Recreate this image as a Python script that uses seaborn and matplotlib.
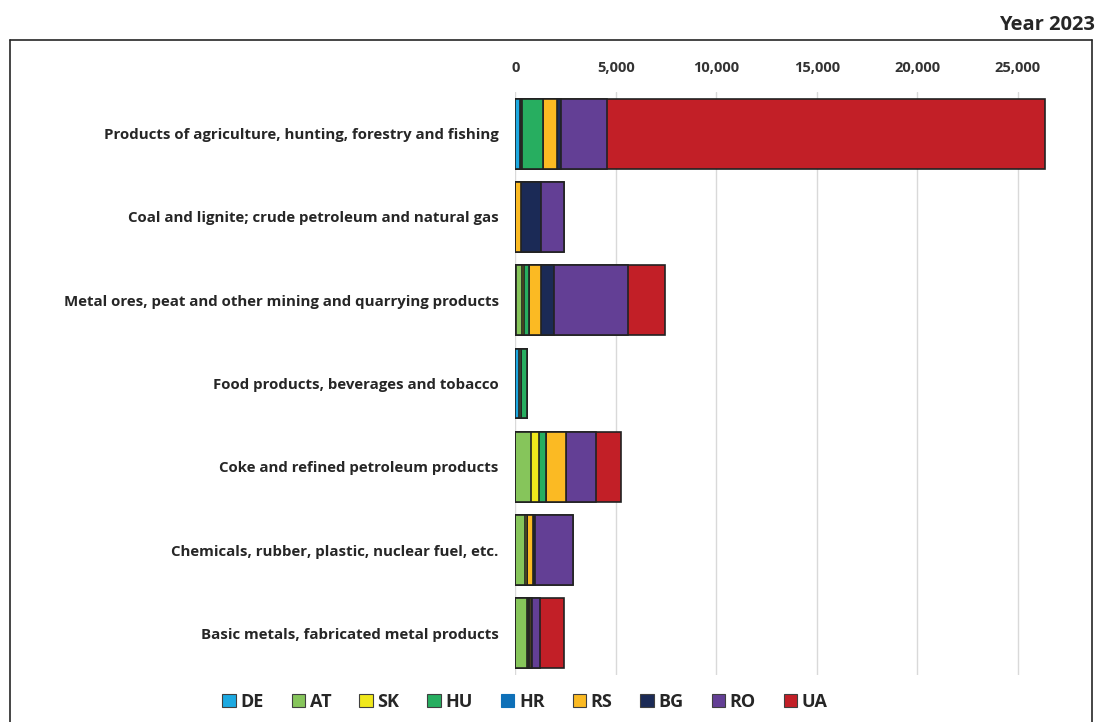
import numpy as np
import matplotlib.pyplot as plt
import seaborn as sns
import pandas as pd
from matplotlib.patches import Patch
from matplotlib.lines import Line2D

# Datos (toneladas, lectura aproximada del gráfico)
categories = [
    "Products of agriculture, hunting, forestry and fishing",
    "Coal and lignite; crude petroleum and natural gas",
    "Metal ores, peat and other mining and quarrying products",
    "Food products, beverages and tobacco",
    "Coke and refined petroleum products",
    "Chemicals, rubber, plastic, nuclear fuel, etc.",
    "Basic metals, fabricated metal products",
]
countries = ["DE", "AT", "SK", "HU", "HR", "RS", "BG", "RO", "UA"]
DE = [250, 0, 50, 180, 0, 0, 0]
AT = [50, 0, 280, 100, 800, 470, 570]
SK = [30, 0, 100, 0, 400, 100, 60]
HU = [1030, 0, 250, 300, 350, 0, 60]
HR = [20, 0, 0, 0, 0, 0, 0]
RS = [700, 280, 580, 0, 950, 330, 100]
BG = [200, 1000, 670, 0, 0, 100, 50]
RO = [2270, 1130, 3670, 0, 1500, 1880, 400]
UA = [21800, 0, 1830, 0, 1270, 0, 1180]
xticks = [0, 5000, 10000, 15000, 20000, 25000]

colors = {"DE": "#1CA9E1", "AT": "#86C55B", "SK": "#F0E81C", "HU": "#27AE60",
          "HR": "#0E70B8", "RS": "#FBBA23", "BG": "#1B2A56", "RO": "#633F95",
          "UA": "#C21F27"}

df = pd.DataFrame({"DE": DE, "AT": AT, "SK": SK, "HU": HU, "HR": HR,
                   "RS": RS, "BG": BG, "RO": RO, "UA": UA}, index=categories)
cum = df.cumsum(axis=1)
cum["category"] = categories

sns.set_style("white")
plt.rcParams['font.family'] = ['Open Sans', 'DejaVu Sans']

fig = plt.figure(figsize=(10.96, 7.22), dpi=100)
ax = fig.add_axes([515.3 / 1096, 1 - 675 / 722, 532.7 / 1096, 583 / 722])

# barras apiladas: se dibujan los acumulados de mayor a menor
for c in reversed(countries):
    sns.barplot(data=cum, x=c, y="category", orient="h", ax=ax, color=colors[c],
                saturation=1, width=0.84, edgecolor="#222222", linewidth=1.2)

ax.set_xlim(0, 26500)
ax.set_xticks(xticks)
ax.set_xticklabels([f"{v:,}" for v in xticks], fontsize=10.5, fontweight="bold",
                   color="#333333")
ax.xaxis.tick_top()
ax.tick_params(axis="x", length=0, pad=12)
ax.tick_params(axis="y", length=0, pad=12)
ax.set_yticks(range(len(categories)))
ax.set_yticklabels(categories, fontsize=10.8, fontweight="bold", color="#262626")
ax.set_xlabel("")
ax.set_ylabel("")
for s in ax.spines.values():
    s.set_visible(False)
ax.grid(axis="x", color="#D9D9D9", linewidth=1)
ax.set_axisbelow(True)

# leyenda
handles = []
for c in countries:
    ec = colors[c] if c == "HR" else "#404040"
    handles.append(Patch(facecolor=colors[c], edgecolor=ec, linewidth=0.8, label=c))
leg = fig.legend(handles=handles, loc="center", bbox_to_anchor=(525 / 1096, 1 - 702 / 722),
                 ncol=9, frameon=False, handlelength=0.75, handleheight=0.75,
                 handletextpad=0.25, columnspacing=1.55,
                 prop={"weight": "bold", "size": 13})
for t in leg.get_texts():
    t.set_color("#262626")

# marco del gráfico y título
fig.add_artist(Line2D([10 / 1096, 10 / 1096], [0, 1 - 40 / 722], color="#262626", lw=1.2))
fig.add_artist(Line2D([10 / 1096, 1092 / 1096], [1 - 40 / 722, 1 - 40 / 722], color="#262626", lw=1.2))
fig.add_artist(Line2D([1092 / 1096, 1092 / 1096], [0, 1 - 40 / 722], color="#262626", lw=1.2))
fig.text(1095 / 1096, 1 - 25 / 722, "Year 2023", ha="right", va="center",
         fontsize=14.5, fontweight="bold", color="#262626")

plt.savefig("out.png", dpi=100)
